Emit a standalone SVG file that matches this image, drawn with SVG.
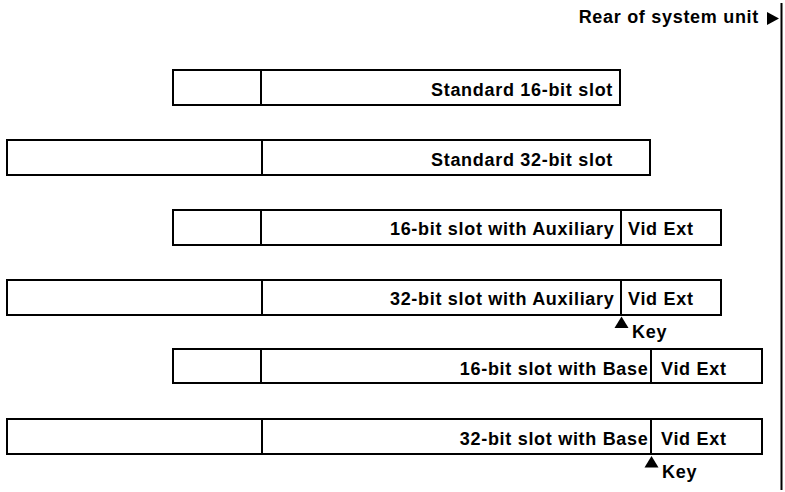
<svg xmlns="http://www.w3.org/2000/svg" width="785" height="492" viewBox="0 0 785 492">
<style>
.box{fill:#fff;stroke:#000;stroke-width:2}
.div{stroke:#000;stroke-width:2}
.t{font-family:"Liberation Sans",Arial,Helvetica,sans-serif;font-weight:bold;font-size:18px;letter-spacing:0.7px;fill:#000}
.e{text-anchor:end}
.tri{fill:#000}
</style>
<rect width="785" height="492" fill="#fff"/>
<g id="rear">
<text class="t e" x="759" y="23">Rear of system unit</text>
<polygon class="tri" points="767,12 767,25 779,18.5"/>
<line x1="781.5" y1="3" x2="781.5" y2="490" stroke="#000" stroke-width="2"/>
</g>
<g id="slot-std16">
<rect class="box" x="173" y="70" width="447" height="35"/>
<line class="div" x1="261" y1="70" x2="261" y2="105"/>
<text class="t" x="431" y="96">Standard 16-bit slot</text>
</g>
<g id="slot-std32">
<rect class="box" x="7" y="140" width="643" height="35"/>
<line class="div" x1="262" y1="140" x2="262" y2="175"/>
<text class="t" x="431" y="166">Standard 32-bit slot</text>
</g>
<g id="slot-16aux">
<rect class="box" x="173" y="210" width="548" height="35"/>
<line class="div" x1="261" y1="210" x2="261" y2="245"/>
<line class="div" x1="621" y1="210" x2="621" y2="245"/>
<text class="t e" x="614.5" y="235">16-bit slot with Auxiliary</text>
<text class="t" x="628" y="235">Vid Ext</text>
</g>
<g id="slot-32aux">
<rect class="box" x="7" y="280" width="714" height="35"/>
<line class="div" x1="262" y1="280" x2="262" y2="315"/>
<line class="div" x1="621" y1="280" x2="621" y2="315"/>
<text class="t e" x="614.5" y="305">32-bit slot with Auxiliary</text>
<text class="t" x="628" y="305">Vid Ext</text>
</g>
<g id="slot-16base">
<rect class="box" x="173" y="349" width="589" height="34"/>
<line class="div" x1="261" y1="349" x2="261" y2="383"/>
<line class="div" x1="651" y1="349" x2="651" y2="383"/>
<text class="t e" x="648.5" y="375">16-bit slot with Base</text>
<text class="t" x="661" y="375">Vid Ext</text>
</g>
<g id="slot-32base">
<rect class="box" x="7" y="419" width="755" height="35"/>
<line class="div" x1="262" y1="419" x2="262" y2="454"/>
<line class="div" x1="651" y1="419" x2="651" y2="454"/>
<text class="t e" x="648.5" y="445">32-bit slot with Base</text>
<text class="t" x="661" y="445">Vid Ext</text>
</g>
<g id="connectors">
<g id="key-aux">
<polygon class="tri" points="621.5,316.5 614.5,328 628.5,328"/>
<text class="t" x="632" y="338">Key</text>
</g>
<g id="key-base">
<polygon class="tri" points="651.5,456 644.5,467.5 658.5,467.5"/>
<text class="t" x="662" y="478">Key</text>
</g>
</g>
</svg>
